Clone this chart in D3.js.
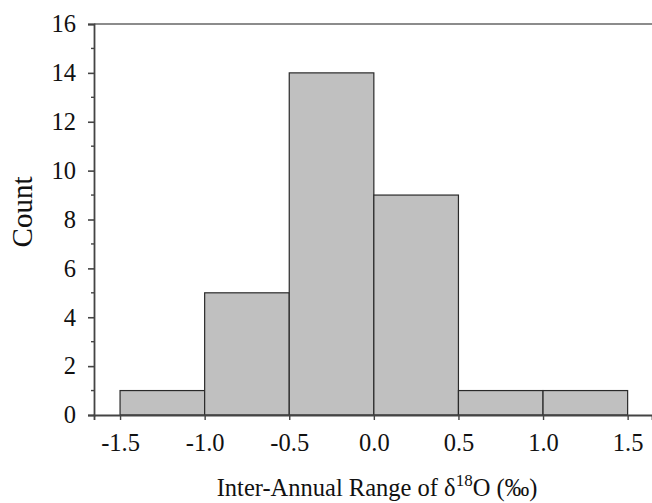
<!DOCTYPE html>
<html>
<head>
<meta charset="utf-8">
<script src="https://cdn.jsdelivr.net/npm/d3@7/dist/d3.min.js"></script>
<style>
  html, body { margin: 0; padding: 0; background: #fff; }
  svg { display: block; }
  text { font-family: "Liberation Serif", "Times New Roman", serif; fill: #111; }
</style>
</head>
<body>
<svg id="chart" width="652" height="503"></svg>
<script>
// Histogram bins (lower and upper edges, ‰) and counts
const binStarts = [-1.5, -1.0, -0.5, 0.0, 0.5, 1.0];
const binEnds   = [-1.0, -0.5, 0.0, 0.5, 1.0, 1.5];
const counts    = [1, 5, 14, 9, 1, 1];
const xTicks    = [-1.5, -1.0, -0.5, 0.0, 0.5, 1.0, 1.5];
const xTickLabels = ["-1.5", "-1.0", "-0.5", "0.0", "0.5", "1.0", "1.5"];
const yTicks    = [0, 2, 4, 6, 8, 10, 12, 14, 16];
const yMinor    = [1, 3, 5, 7, 9, 11, 13, 15];

const svg = d3.select("#chart");
const plotLeft = 94, plotRight = 652, plotTop = 24, plotBottom = 415;
const serif = "'Liberation Serif', 'Times New Roman', serif";

const x = d3.scaleLinear().domain([-1.654, 1.644]).range([plotLeft, plotRight]);
const y = d3.scaleLinear().domain([0, 16]).range([plotBottom, plotTop]);

// Bars
svg.append("g").selectAll("rect")
  .data(counts)
  .join("rect")
  .attr("x", (d, i) => x(binStarts[i]))
  .attr("y", d => y(d))
  .attr("width", (d, i) => x(binEnds[i]) - x(binStarts[i]))
  .attr("height", d => y(0) - y(d))
  .attr("fill", "#c0c0c0")
  .attr("stroke", "#2a2a2a")
  .attr("stroke-width", 1.2);

// Top frame line
svg.append("line")
  .attr("x1", plotLeft).attr("x2", plotRight)
  .attr("y1", y(16)).attr("y2", y(16))
  .attr("stroke", "#666").attr("stroke-width", 1.6);

// Y axis (major ticks labelled, minor ticks unlabelled)
const yAxis = svg.append("g").attr("transform", `translate(${plotLeft},0)`)
  .call(d3.axisLeft(y).tickValues(yTicks).tickFormat(d3.format("d")).tickSizeOuter(0).tickSize(6).tickPadding(12));
yAxis.select(".domain").attr("stroke", "#444").attr("stroke-width", 1.8);
yAxis.selectAll(".tick line").attr("stroke", "#444").attr("stroke-width", 1.6);
yAxis.selectAll(".tick text").style("font-size", "24.5px").style("font-family", serif).attr("fill", "#0a0a0a");

svg.append("g").selectAll("line")
  .data(yMinor)
  .join("line")
  .attr("x1", plotLeft - 3).attr("x2", plotLeft)
  .attr("y1", d => y(d)).attr("y2", d => y(d))
  .attr("stroke", "#444").attr("stroke-width", 1.4);

// X axis
const xAxis = svg.append("g").attr("transform", `translate(0,${plotBottom})`)
  .call(d3.axisBottom(x).tickValues(xTicks).tickFormat((d, i) => xTickLabels[i]).tickSizeOuter(0).tickSize(5).tickPadding(14));
xAxis.select(".domain").attr("stroke", "#444").attr("stroke-width", 1.8);
xAxis.selectAll(".tick line").attr("stroke", "#444").attr("stroke-width", 1.4);
xAxis.selectAll(".tick text").style("font-size", "24.5px").style("font-family", serif).attr("fill", "#0a0a0a");

// Axis titles
svg.append("text")
  .attr("transform", `translate(32,212) rotate(-90)`)
  .attr("text-anchor", "middle")
  .style("font-size", "29px")
  .text("Count");

const xt = svg.append("text")
  .attr("x", 377).attr("y", 496)
  .attr("text-anchor", "middle")
  .style("font-size", "24.5px");
xt.append("tspan").text("Inter-Annual Range of δ");
xt.append("tspan").attr("dy", -10).style("font-size", "17px").text("18");
xt.append("tspan").attr("dy", 10).text("O (‰)");
</script>
</body>
</html>
